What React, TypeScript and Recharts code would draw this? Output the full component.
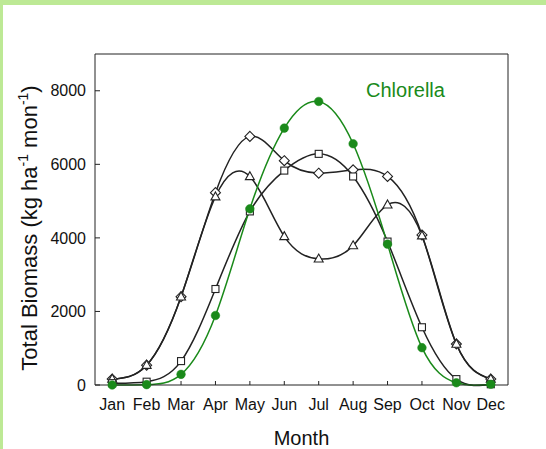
import React from 'react';
import { LineChart, Line, XAxis, YAxis } from 'recharts';

const months = ['Jan', 'Feb', 'Mar', 'Apr', 'May', 'Jun', 'Jul', 'Aug', 'Sep', 'Oct', 'Nov', 'Dec'];
const monthTicks = [1, 2, 3, 4, 5, 6, 7, 8, 9, 10, 11, 12];
const diamondSeries = [160, 540, 2400, 5230, 6760, 6100, 5760, 5850, 5670, 4080, 1115, 160];
const triangleSeries = [160, 540, 2400, 5120, 5670, 4040, 3430, 3790, 4900, 4060, 1115, 160];
const squareSeries = [50, 90, 650, 2610, 4720, 5830, 6285, 5670, 3900, 1570, 160, 20];
const chlorellaSeries = [0, 10, 290, 1890, 4790, 6985, 7710, 6560, 3830, 1015, 60, 20];
const yTicks = [0, 2000, 4000, 6000, 8000];

const data = monthTicks.map((m, i) => ({
  x: m,
  diamond: diamondSeries[i],
  triangle: triangleSeries[i],
  square: squareSeries[i],
  chlorella: chlorellaSeries[i],
}));

const INK = '#222';
const GREEN = '#1a8a1a';
const FONT = '"Liberation Sans", Arial, sans-serif';

const DiamondDot = (p: any) => {
  const { cx, cy, index } = p;
  const r = 5;
  return (
    <path key={`d-${index}`} d={`M${cx},${cy - r}L${cx + r},${cy}L${cx},${cy + r}L${cx - r},${cy}Z`} fill="#fff" stroke={INK} strokeWidth={1.1} />
  );
};
const TriangleDot = (p: any) => {
  const { cx, cy, index } = p;
  const h = 8;
  const w = 9;
  return (
    <path key={`t-${index}`} d={`M${cx},${cy - h * 0.6}L${cx + w / 2},${cy + h * 0.4}L${cx - w / 2},${cy + h * 0.4}Z`} fill="#fff" stroke={INK} strokeWidth={1.1} />
  );
};
const SquareDot = (p: any) => {
  const { cx, cy, index } = p;
  const s = 7;
  return <rect key={`s-${index}`} x={cx - s / 2} y={cy - s / 2} width={s} height={s} fill="#fff" stroke={INK} strokeWidth={1.1} />;
};
const CircleDot = (p: any) => {
  const { cx, cy, index } = p;
  return <circle key={`c-${index}`} cx={cx} cy={cy} r={4.3} fill={GREEN} stroke={GREEN} strokeWidth={0.5} />;
};

export default function App() {
  return (
    <div style={{ position: 'absolute', left: 0, top: 0, width: 546, height: 449, background: '#fff', overflow: 'hidden' }}>
      <div style={{ position: 'absolute', left: 0, top: 0, width: 546, height: 5, background: '#bde995' }} />
      <div style={{ position: 'absolute', left: 0, top: 0, width: 3, height: 449, background: '#bde995' }} />
      <div style={{ position: 'absolute', left: 0, top: 0 }}>
        <LineChart width={546} height={449} data={data} margin={{ top: 53, right: 37, bottom: 34, left: 35 }}>
          <XAxis
            dataKey="x"
            type="number"
            domain={[0.5, 12.5]}
            ticks={monthTicks}
            interval={0}
            tickFormatter={(v: number) => months[v - 1]}
            height={30}
            tickSize={-4}
            tickMargin={18}
            stroke={INK}
            tick={{ fill: '#111', fontSize: 16, fontFamily: FONT }}
          />
          <XAxis xAxisId="top" dataKey="x" type="number" domain={[0.5, 12.5]} orientation="top" height={1} tick={false} tickLine={false} stroke={INK} />
          <YAxis
            domain={[0, 9000]}
            ticks={yTicks}
            interval={0}
            width={60}
            tickSize={-5}
            tickMargin={14}
            stroke={INK}
            tick={{ fill: '#111', fontSize: 16, fontFamily: FONT }}
          />
          <YAxis yAxisId="right" orientation="right" domain={[0, 9000]} width={1} tick={false} tickLine={false} stroke={INK} />
          <Line dataKey="diamond" type="natural" stroke={INK} strokeWidth={1.5} dot={DiamondDot} isAnimationActive={false} />
          <Line dataKey="triangle" type="natural" stroke={INK} strokeWidth={1.5} dot={TriangleDot} isAnimationActive={false} />
          <Line dataKey="square" type="natural" stroke={INK} strokeWidth={1.5} dot={SquareDot} isAnimationActive={false} />
          <Line dataKey="chlorella" type="natural" stroke={GREEN} strokeWidth={1.5} dot={CircleDot} isAnimationActive={false} />
        </LineChart>
      </div>
      <svg width={546} height={449} style={{ position: 'absolute', left: 0, top: 0, pointerEvents: 'none' }}>
        <text x={366} y={97} fill={GREEN} fontSize={20} fontFamily={FONT}>Chlorella</text>
        <text x={301.5} y={445} fill="#111" fontSize={20} fontFamily={FONT} textAnchor="middle">Month</text>
        <text transform="translate(37,228) rotate(-90)" fill="#111" fontSize={22} fontFamily={FONT} textAnchor="middle">
          Total Biomass (kg ha<tspan fontSize={14} dy={-9}>-1</tspan><tspan dy={9}> mon</tspan><tspan fontSize={14} dy={-9}>-1</tspan><tspan dy={9}>)</tspan>
        </text>
      </svg>
    </div>
  );
}
